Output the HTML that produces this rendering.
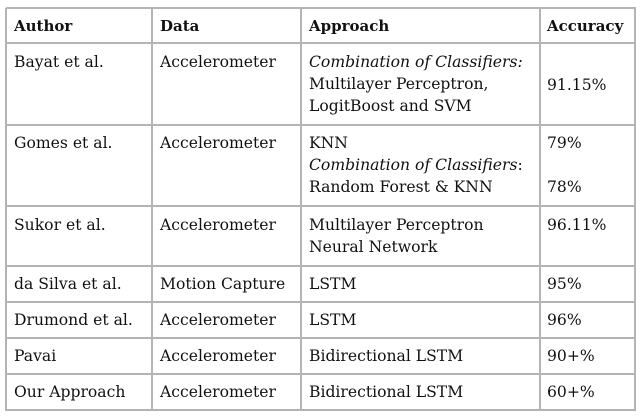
<!DOCTYPE html>
<html><head><meta charset="utf-8"><style>
html,body{margin:0;padding:0;background:#fff;width:641px;height:416px;overflow:hidden;position:relative}
.h{position:absolute;height:2px;background:#b4b4b4;left:6px;width:630px}
.v{position:absolute;width:2px;background:#b4b4b4;top:8px;height:403px}
.t{position:absolute;font-family:"DejaVu Serif","Liberation Serif",serif;font-size:15.6px;line-height:22px;color:#111;white-space:nowrap}
.b{font-weight:bold;font-size:15px}
i{font-style:italic}
</style></head><body>
<div class="h" style="top:7px"></div>
<div class="h" style="top:42px"></div>
<div class="h" style="top:124px"></div>
<div class="h" style="top:205px"></div>
<div class="h" style="top:265px"></div>
<div class="h" style="top:301px"></div>
<div class="h" style="top:337px"></div>
<div class="h" style="top:373px"></div>
<div class="h" style="top:409px"></div>
<div class="v" style="left:5px"></div>
<div class="v" style="left:151px"></div>
<div class="v" style="left:300px"></div>
<div class="v" style="left:539px"></div>
<div class="v" style="left:634px"></div>

<div class="t b" style="left:14px;top:15px">Author</div>
<div class="t b" style="left:160px;top:15px">Data</div>
<div class="t b" style="left:309px;top:15px">Approach</div>
<div class="t b" style="left:547px;top:15px">Accuracy</div>

<div class="t" style="left:14px;top:51px">Bayat et al.</div>
<div class="t" style="left:160px;top:51px">Accelerometer</div>
<div class="t" style="left:309px;top:51px"><i>Combination of Classifiers:</i><br>Multilayer Perceptron,<br>LogitBoost and SVM</div>
<div class="t" style="left:547px;top:74px">91.15%</div>

<div class="t" style="left:14px;top:132px">Gomes et al.</div>
<div class="t" style="left:160px;top:132px">Accelerometer</div>
<div class="t" style="left:309px;top:132px">KNN<br><i>Combination of Classifiers</i>:<br>Random Forest &amp; KNN</div>
<div class="t" style="left:547px;top:132px">79%<br><br>78%</div>

<div class="t" style="left:14px;top:214px">Sukor et al.</div>
<div class="t" style="left:160px;top:214px">Accelerometer</div>
<div class="t" style="left:309px;top:214px">Multilayer Perceptron<br>Neural Network</div>
<div class="t" style="left:547px;top:214px">96.11%</div>

<div class="t" style="left:14px;top:273px">da Silva et al.</div>
<div class="t" style="left:160px;top:273px">Motion Capture</div>
<div class="t" style="left:309px;top:273px">LSTM</div>
<div class="t" style="left:547px;top:273px">95%</div>

<div class="t" style="left:14px;top:309px">Drumond et al.</div>
<div class="t" style="left:160px;top:309px">Accelerometer</div>
<div class="t" style="left:309px;top:309px">LSTM</div>
<div class="t" style="left:547px;top:309px">96%</div>

<div class="t" style="left:14px;top:345px">Pavai</div>
<div class="t" style="left:160px;top:345px">Accelerometer</div>
<div class="t" style="left:309px;top:345px">Bidirectional LSTM</div>
<div class="t" style="left:547px;top:345px">90+%</div>

<div class="t" style="left:14px;top:381px">Our Approach</div>
<div class="t" style="left:160px;top:381px">Accelerometer</div>
<div class="t" style="left:309px;top:381px">Bidirectional LSTM</div>
<div class="t" style="left:547px;top:381px">60+%</div>
</body></html>
